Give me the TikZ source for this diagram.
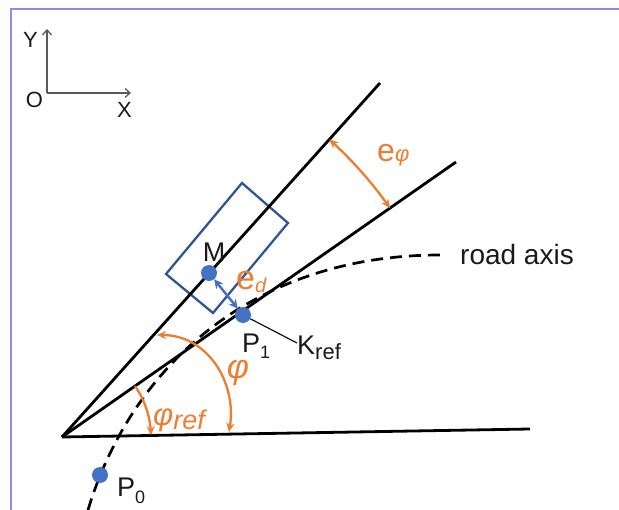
\documentclass[tikz,border=0pt]{standalone}
\usepackage{fontspec}
\setmainfont{Liberation Sans}
\usetikzlibrary{arrows.meta}
\definecolor{orng}{HTML}{ED7D31}
\definecolor{dotblue}{HTML}{4472C4}
\definecolor{boxblue}{HTML}{2F5597}
\definecolor{framecol}{HTML}{8C8CF0}
\definecolor{axgray}{HTML}{5A5A5A}
\definecolor{txt}{HTML}{1A1A1A}
\newcommand\fs[1]{\fontsize{#1}{#1}\selectfont}
\begin{document}
\begin{tikzpicture}[x=1pt,y=-1pt,
  >={Stealth[length=9pt,width=8pt]},
  blackline/.style={line width=2.8pt, black},
  roadline/.style={line width=2.7pt, black, dash pattern=on 12pt off 7pt},
  angarc/.style={orng, line width=2.3pt},
  dot/.style={circle, fill=dotblue, inner sep=0pt, minimum size=16pt},
  lbl/.style={font=\fs{27}, text=txt, inner sep=0pt},
  axlbl/.style={font=\fs{22}, text=txt, inner sep=0pt},
  olbl/.style={text=orng, inner sep=0pt}]
\useasboundingbox (0,0) rectangle (619,510);
% frame
\draw[framecol, line width=1.5pt] (619,9) -- (11,9) -- (11,510);
% coordinate axes
\coordinate (Oax) at (47,93);
\coordinate (Yax) at (47,29);
\coordinate (Xax) at (131,93);
\draw[axgray, line width=1.3pt, -{Straight Barb[length=5pt,width=9pt]}] (Oax) -- (Yax);
\draw[axgray, line width=1.3pt, -{Straight Barb[length=5pt,width=9pt]}] (Oax) -- (Xax);
\node[axlbl] (Ylab) at (30.5,39.5) {Y};
\node[axlbl] (Olab) at (34.5,99.5) {O};
\node[axlbl] (Xlab) at (124.5,110) {X};
% vehicle box
\draw[boxblue, line width=2.3pt, line join=miter] (242,183) -- (288,223) -- (213,313) -- (166,274) -- cycle;
% main lines
\coordinate (V) at (62,437);
\coordinate (U) at (380,83);
\coordinate (Mid) at (456,162);
\coordinate (H) at (530,429);
\draw[blackline] (V) -- (U);
\draw[blackline] (V) -- (Mid);
\draw[blackline] (V) -- (H);
% road axis
\draw[roadline] (88,510) .. controls (130,370) and (250,255) .. (440,255);
\node[lbl, font=\fs{28}, anchor=base west] (road) at (460,265) {road axis};
% angle arcs
\draw[angarc, <->] plot[domain=34.9:48.06, samples=40] ({62+400*cos(\x)},{437-400*sin(\x)});
\node[olbl, anchor=base west] (ephi) at (377,162) {\fs{32}e\raisebox{0pt}{\fs{22}\itshape φ}};
\draw[angarc, ->] plot[domain=34.9:1.2, samples=40] ({62+89*cos(\x)},{437-89*sin(\x)});
\node[olbl, anchor=base west] (phiref) at (153,426) {\fs{31}\itshape φ\raisebox{-4pt}{\fs{27}ref}};
\coordinate (phiA) at (157,335);
\coordinate (phiB) at (229,432);
\draw[angarc, <->] (phiA) .. controls (207,335) and (237,382) .. (phiB);
\node[olbl, font=\fs{34}\itshape] (phi) at (238,373) {φ};
% points
\node[dot] (P0) at (100,475) {};
\node[dot] (P1) at (243,315) {};
\node[dot] (M) at (209,273) {};
\draw[dotblue, line width=2.5pt, {Stealth[length=9pt,width=9pt]}-{Stealth[length=9pt,width=9pt]}] (M) -- (P1);
\node[olbl, anchor=base west] (ed) at (236,290) {\fs{34}e\raisebox{-3pt}{\fs{20}\itshape d}};
\coordinate (kend) at (297,343);
\draw[black, line width=1.1pt] (P1) -- (kend);
\node[lbl, anchor=base west] (kref) at (297,355) {Κ\raisebox{-5pt}{\fs{22}ref}};
\node[lbl, anchor=base west] (P1lab) at (242,353) {P\raisebox{-6pt}{\fs{18}1}};
\node[lbl, anchor=base west] (P0lab) at (117,497) {P\raisebox{-6pt}{\fs{18}0}};
\node[lbl] (Mlab) at (214,252) {M};
\end{tikzpicture}
\end{document}
